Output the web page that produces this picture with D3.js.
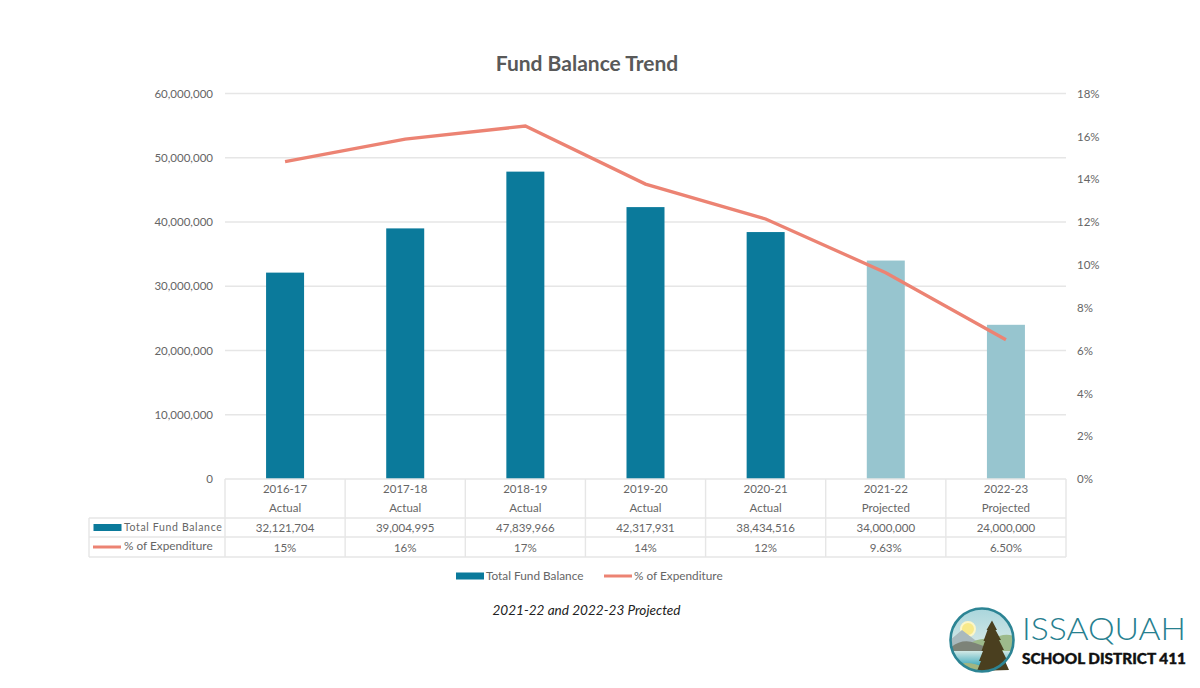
<!DOCTYPE html>
<html>
<head>
<meta charset="utf-8">
<script src="https://cdn.jsdelivr.net/npm/d3@7/dist/d3.min.js"></script>
<style>
html,body{margin:0;padding:0;background:#fff;}
svg{display:block;}
text{font-family:Lato,"Open Sans",sans-serif;}
</style>
</head>
<body>
<svg id="chart" width="1200" height="688"></svg>
<script>
const years = ["2016-17","2017-18","2018-19","2019-20","2020-21","2021-22","2022-23"];
const statuses = ["Actual","Actual","Actual","Actual","Actual","Projected","Projected"];
const fundBalance = [32121704,39004995,47839966,42317931,38434516,34000000,24000000];
const expenditurePct = [14.82,15.87,16.48,13.77,12.14,9.63,6.50];
const pctLabels = ["15%","16%","17%","14%","12%","9.63%","6.50%"];
const balanceTicks = [0,10000000,20000000,30000000,40000000,50000000,60000000];
const pctTicks = [0,2,4,6,8,10,12,14,16,18];

const colActual = "#0b7a9b", colProjected = "#97c5cf", colLine = "#ec8373";
const colText = "#666666", colGrid = "#e6e6e6";

const margin = {left:225, right:1066, top:93.5, bottom:479};
const svg = d3.select("#chart");

const x = d3.scaleBand().domain(years).range([margin.left, margin.right]);
const yL = d3.scaleLinear().domain([0,60000000]).range([margin.bottom, margin.top]);
const yR = d3.scaleLinear().domain([0,18]).range([margin.bottom, margin.top]);
const fmt = d3.format(",");

// Title and footnote
svg.append("text").attr("x",587).attr("y",70.5).attr("text-anchor","middle")
  .attr("font-size",21).attr("font-weight",700).attr("fill","#595959").text("Fund Balance Trend");
svg.append("text").attr("x",586.5).attr("y",615).attr("text-anchor","middle")
  .attr("font-size",13.6).attr("font-style","italic").attr("fill","#222").text("2021-22 and 2022-23 Projected");

// Gridlines
svg.append("g").selectAll("line").data(balanceTicks.filter(d=>d>0)).join("line")
  .attr("x1",margin.left).attr("x2",margin.right)
  .attr("y1",d=>yL(d)).attr("y2",d=>yL(d))
  .attr("stroke",colGrid).attr("stroke-width",1.4);

// Left and right axes
const leftAxis = svg.append("g").attr("transform",`translate(${margin.left},0)`)
  .call(d3.axisLeft(yL).tickValues(balanceTicks).tickFormat(fmt).tickSize(0).tickPadding(12));
const rightAxis = svg.append("g").attr("transform",`translate(${margin.right},0)`)
  .call(d3.axisRight(yR).tickValues(pctTicks).tickFormat(d=>d+"%").tickSize(0).tickPadding(11));
[leftAxis,rightAxis].forEach(a=>{
  a.select(".domain").remove();
  a.selectAll("text").attr("font-size",11.5).attr("fill",colText)
    .style("font-family",'Lato,"Open Sans",sans-serif');
});

// Balance bars
const barW = 38;
svg.append("g").selectAll("rect").data(years).join("rect")
  .attr("x",d=>x(d)+x.bandwidth()/2-barW/2)
  .attr("width",barW)
  .attr("y",(d,i)=>yL(fundBalance[i]))
  .attr("height",(d,i)=>yL(0)-yL(fundBalance[i]))
  .attr("fill",(d,i)=>statuses[i]==="Actual"?colActual:colProjected);

// Expenditure line
const line = d3.line().x((d,i)=>x(years[i])+x.bandwidth()/2).y(d=>yR(d));
svg.append("path").datum(expenditurePct).attr("d",line)
  .attr("fill","none").attr("stroke",colLine).attr("stroke-width",3.3);

// Data table beneath the plot
const rowY = [479,518,537,557];
const tableLeft = 89;
const tbl = svg.append("g").attr("stroke",colGrid).attr("stroke-width",1.4);
const edges = x.domain().map(d=>x(d)).concat([margin.right]);
tbl.selectAll("line.v").data(edges).join("line").attr("class","v")
  .attr("x1",d=>d).attr("x2",d=>d).attr("y1",rowY[0]).attr("y2",rowY[3]);
tbl.append("line").attr("x1",margin.left).attr("x2",margin.right).attr("y1",rowY[0]).attr("y2",rowY[0]);
rowY.slice(1).forEach(y=>{
  tbl.append("line").attr("x1",tableLeft).attr("x2",margin.right).attr("y1",y).attr("y2",y);
});
tbl.append("line").attr("x1",tableLeft).attr("x2",tableLeft).attr("y1",rowY[1]).attr("y2",rowY[3]);

const rows = [[years,493],[statuses,512],[fundBalance.map(fmt),532],[pctLabels,552]];
rows.forEach(([vals,y])=>{
  svg.append("g").selectAll("text").data(vals).join("text")
    .attr("x",(d,i)=>x(years[i])+x.bandwidth()/2).attr("y",y)
    .attr("text-anchor","middle").attr("font-size",11.5).attr("fill",colText).text(d=>d);
});

// Legend keys inside the table
svg.append("rect").attr("x",93.5).attr("y",524).attr("width",28).attr("height",7).attr("fill",colActual);
svg.append("text").attr("x",124).attr("y",530.5).attr("font-size",10.5).attr("letter-spacing",0.65).attr("fill",colText).text("Total Fund Balance");
svg.append("line").attr("x1",93).attr("x2",121).attr("y1",547).attr("y2",547).attr("stroke",colLine).attr("stroke-width",3);
svg.append("text").attr("x",124).attr("y",550).attr("font-size",11.8).attr("fill",colText).text("% of Expenditure");

// Legend under the table
svg.append("rect").attr("x",456).attr("y",572.5).attr("width",28).attr("height",7).attr("fill",colActual);
svg.append("text").attr("x",486).attr("y",580).attr("font-size",11.8).attr("fill",colText).text("Total Fund Balance");
svg.append("line").attr("x1",604).attr("x2",632).attr("y1",576).attr("y2",576).attr("stroke",colLine).attr("stroke-width",3);
svg.append("text").attr("x",634).attr("y",580).attr("font-size",11.8).attr("fill",colText).text("% of Expenditure");

// District logo
const logo = svg.append("g");
const defs = svg.append("defs");
const grad = defs.append("linearGradient").attr("id","sky").attr("x1",0).attr("x2",0).attr("y1",0).attr("y2",1);
grad.append("stop").attr("offset","0%").attr("stop-color","#a9d5dc");
grad.append("stop").attr("offset","100%").attr("stop-color","#f3f6ee");
const water = defs.append("linearGradient").attr("id","water").attr("x1",0).attr("x2",0).attr("y1",0).attr("y2",1);
water.append("stop").attr("offset","0%").attr("stop-color","#d2e9e6");
water.append("stop").attr("offset","100%").attr("stop-color","#3fa9bb");
defs.append("clipPath").attr("id","disc").append("circle").attr("cx",982).attr("cy",640).attr("r",31);

const scene = logo.append("g").attr("clip-path","url(#disc)");
scene.append("rect").attr("x",950).attr("y",608).attr("width",64).attr("height",64).attr("fill","url(#sky)");
scene.append("circle").attr("cx",968).attr("cy",629).attr("r",7).attr("fill","#f7e98a").attr("stroke","#fbf6c9").attr("stroke-width",2);
scene.append("path").attr("d","M950 640 L962 630 L975 640 L985 645 L950 650Z").attr("fill","#a9b9bd");
scene.append("path").attr("d","M968 645 Q980 636 992 640 Q1003 632 1014 636 L1014 652 L968 652Z").attr("fill","#9dba8b");
scene.append("path").attr("d","M950 648 Q962 638 975 643 Q985 646 992 650 L992 652 L950 652Z").attr("fill","#7d8378");
scene.append("rect").attr("x",950).attr("y",651).attr("width",64).attr("height",15).attr("fill","url(#water)");
scene.append("path").attr("d","M952 665 Q970 660 985 668 L985 672 L950 672Z").attr("fill","#a3b57f");
// Fir tree
logo.append("path").attr("d","M992 620.5 L997 630 L995.5 630 L1001 640 L999 640 L1004 650 L1002 650 L1007 660 L1004.5 660 L1009 670 L977 671 L981 661 L979 661 L983 651 L981.5 651 L985 641 L983.5 641 L987.5 630 L986.5 630Z").attr("fill","#4a3f1f");
logo.append("circle").attr("cx",982).attr("cy",640).attr("r",31.5).attr("fill","none").attr("stroke","#2c8494").attr("stroke-width",2.6);
logo.append("text").attr("x",1022).attr("y",640).attr("font-size",32).attr("font-weight",300)
  .attr("textLength",164).attr("lengthAdjust","spacingAndGlyphs").attr("fill","#27808f").text("ISSAQUAH");
logo.append("text").attr("x",1022).attr("y",664).attr("font-size",15).attr("font-weight",900)
  .attr("stroke","#111").attr("stroke-width",0.4)
  .attr("textLength",164).attr("lengthAdjust","spacingAndGlyphs").attr("fill","#111").text("SCHOOL DISTRICT 411");
</script>
</body>
</html>
